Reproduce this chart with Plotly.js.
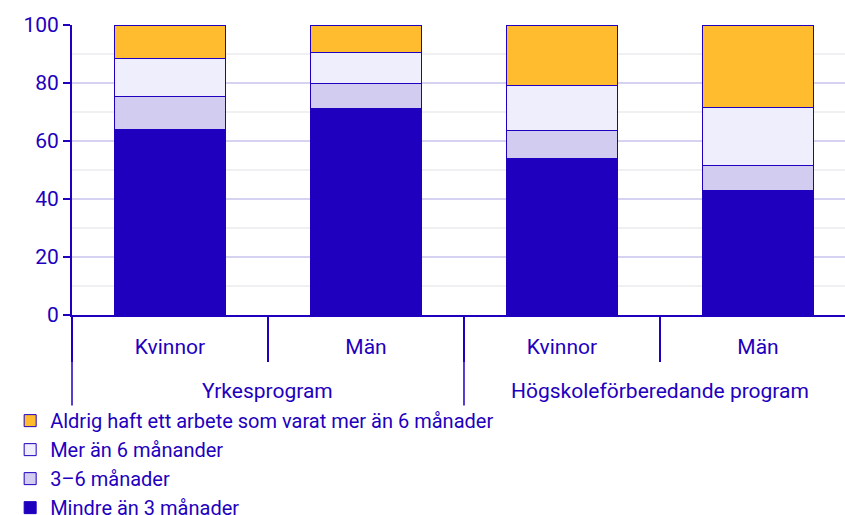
<!DOCTYPE html>
<html>
<head>
<meta charset="utf-8">
<script src="https://cdn.plot.ly/plotly-3.0.1.min.js"></script>
<style>html,body{margin:0;padding:0;background:#fff;}#chart{width:845px;height:515px;}</style>
</head>
<body>
<div id="chart"></div>
<script>
const programs = ["Yrkesprogram", "Yrkesprogram", "Högskoleförberedande program", "Högskoleförberedande program"];
const genders = ["Kvinnor", "Män", "Kvinnor", "Män"];
const seriesNames = ["Mindre än 3 månader", "3–6 månader", "Mer än 6 månander", "Aldrig haft ett arbete som varat mer än 6 månader"];
const mindre3 = [64.1, 71.1, 53.8, 42.9];
const tre6 = [11.1, 8.6, 9.7, 8.7];
const mer6 = [13.3, 10.7, 15.5, 20.0];
const aldrig = [11.5, 9.6, 21.0, 28.4];
const seriesValues = [mindre3, tre6, mer6, aldrig];
const seriesColors = ["#1e00be", "#d2ccf0", "#eeeefc", "#ffbc2e"];
const yTicks = [0, 20, 40, 60, 80, 100];

const dark = "#1e00be";
const FS = 21;
const cats = programs.map((p, i) => p + " · " + genders[i]);
const xRange = [-0.5, 3.444];

const traces = seriesValues.map((vals, i) => ({
  type: "bar",
  name: seriesNames[i],
  x: cats,
  y: vals,
  marker: {color: seriesColors[i], line: {color: dark, width: 1}},
  hoverinfo: "y+name"
}));

// group labels and dividers derived from the program array
const groups = [];
programs.forEach((p, i) => {
  if (!groups.length || groups[groups.length - 1].name !== p) groups.push({name: p, start: i, end: i});
  else groups[groups.length - 1].end = i;
});
const annotations = groups.map(g => ({
  xref: "x", yref: "paper",
  x: (g.start + g.end) / 2, y: -0.262,
  text: g.name, showarrow: false,
  xanchor: "center", yanchor: "middle",
  font: {size: FS, color: dark, family: "Roboto, sans-serif"}
}));
const boundaries = groups.map(g => g.start - 0.5).concat([programs.length - 0.5]);
const shapes = boundaries
  .map(b => (b - xRange[0]) / (xRange[1] - xRange[0]))
  .filter(px => px <= 1.0001)
  .map(px => ({
    type: "line", xref: "paper", yref: "paper",
    x0: px, x1: px, y0: 0, y1: -0.312,
    line: {color: dark, width: 1.5}
  }));

const layout = {
  width: 845, height: 515,
  margin: {l: 72, r: 0, t: 25, b: 200, autoexpand: false},
  barmode: "stack",
  bargap: 0.43,
  paper_bgcolor: "#fff", plot_bgcolor: "#fff",
  font: {family: "Roboto, sans-serif", size: FS, color: dark},
  showlegend: true,
  legend: {
    orientation: "v", traceorder: "reversed",
    x: -0.08, xanchor: "left", y: -0.297, yanchor: "top",
    font: {size: 20, color: dark}, bgcolor: "rgba(0,0,0,0)",
    tracegroupgap: 0
  },
  annotations: annotations,
  shapes: shapes,
  xaxis: {
    type: "category",
    categoryorder: "array", categoryarray: cats,
    tickvals: cats, ticktext: genders,
    range: xRange,
    showline: true, linecolor: dark, linewidth: 2,
    ticks: "outside", tickson: "boundaries", ticklen: 45, tickwidth: 1.5, tickcolor: dark,
    ticklabelstandoff: 12,
    tickfont: {size: FS, color: dark},
    showgrid: false, automargin: false, zeroline: false
  },
  yaxis: {
    range: [0, 100], tickvals: yTicks, ticktext: yTicks.map(String),
    showline: true, linecolor: dark, linewidth: 2,
    ticks: "outside", ticklen: 7, tickwidth: 1.5, tickcolor: dark,
    gridcolor: "#d6d3f2", gridwidth: 1.5,
    minor: {dtick: 10, showgrid: true, gridcolor: "#f0f0f3", gridwidth: 1.5, ticks: ""},
    tickfont: {size: FS, color: dark},
    zeroline: false, automargin: false, fixedrange: true
  }
};

Plotly.newPlot("chart", traces, layout, {displayModeBar: false, staticPlot: true});
</script>
</body>
</html>
